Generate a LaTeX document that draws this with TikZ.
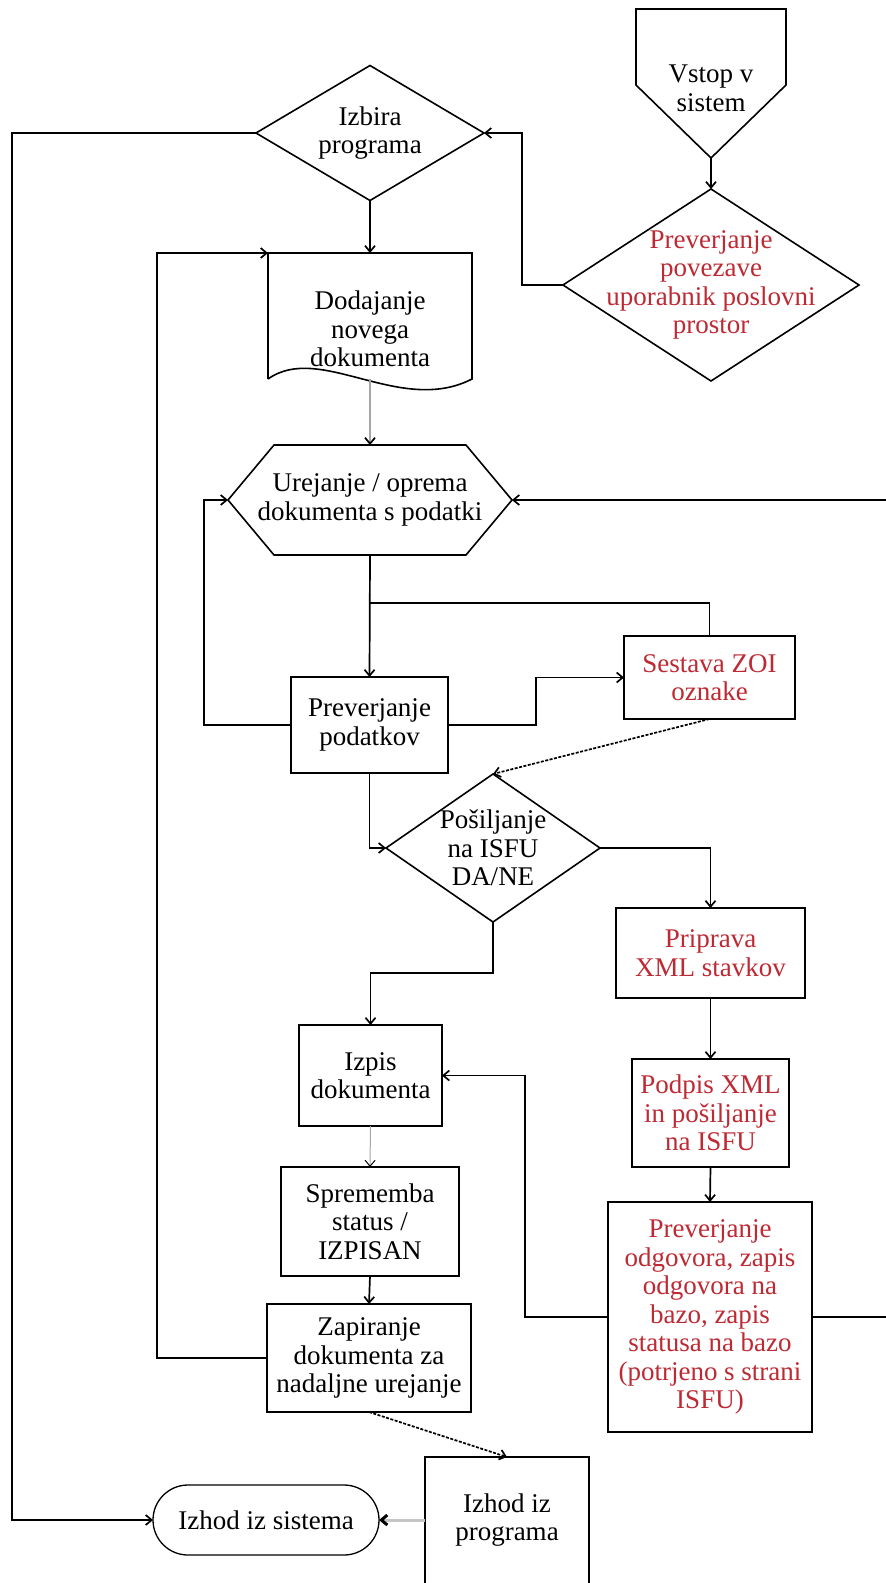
\documentclass[tikz,border=0pt]{standalone}
\usepackage{fontspec}
\setmainfont{Liberation Serif}
\usetikzlibrary{arrows.meta,calc}
\definecolor{txtred}{RGB}{190,42,52}
\begin{document}
\begin{tikzpicture}[x=1pt,y=-1pt,
  every node/.style={inner sep=0pt,outer sep=0pt,align=center,font=\fontsize{27}{28.5}\selectfont},
  box/.style={draw,line width=1.7pt},
  redtext/.style={text=txtred},
  outline/.style={line width=1.6pt,line join=miter},
  conn/.style={line width=1.7pt,-{Straight Barb[length=6pt,width=10pt,color=black]}},
  dashconn/.style={conn,dash pattern=on 3pt off 1.5pt},
  grayconn/.style={conn,draw=gray!70},
]
\useasboundingbox (0,0) rectangle (886,1583);
\fill[white] (0,0) rectangle (886,1583);
\clip (0,0) rectangle (886,1583);

% ---------- nodes ----------
\node[minimum width=150pt,minimum height=149pt] (vstop) at (711,88.5) {Vstop v\\sistem};
\draw[outline] ($(vstop.north west)+(0,-5)$) -- ($(vstop.north east)+(0,-5)$) -- ($(vstop.north east)+(0,71)$) -- ($(vstop.south)+(0,-5)$) -- ($(vstop.north west)+(0,71)$) -- cycle;
\coordinate (vstopout) at ($(vstop.south)+(0,-5)$);

\node[minimum width=228pt,minimum height=135pt] (izbira) at (370,133) {Izbira\\programa};
\draw[outline] (izbira.north) -- (izbira.east) -- (izbira.south) -- (izbira.west) -- cycle;

\node[redtext,minimum width=296pt,minimum height=192pt] (prevpov) at (711,285) {Preverjanje\\povezave\\uporabnik poslovni\\prostor};
\draw[outline] (prevpov.north) -- (prevpov.east) -- (prevpov.south) -- (prevpov.west) -- cycle;

\node[minimum width=204pt,minimum height=134pt] (dodaj) at (370,329) {Dodajanje\\novega\\dokumenta};
\coordinate (dodajtop) at ($(dodaj.north)+(0,-9)$);
\coordinate (dodajtl) at ($(dodaj.north west)+(0,-9)$);
\coordinate (dodajout) at ($(dodaj.south)+(0,-17)$);
\draw[outline] ($(dodaj.south west)+(0,-17)$) -- (dodajtl) -- ($(dodaj.north east)+(0,-9)$) -- ($(dodaj.south east)+(0,-17)$)
  .. controls ($(dodaj.south east)+(-72,20)$) and ($(dodaj.south west)+(52,-54)$) .. ($(dodaj.south west)+(0,-17)$);

\node[minimum width=284pt,minimum height=110pt] (ureja) at (370,500) {Urejanje / oprema\\dokumenta s podatki};
\draw[outline] ($(ureja.north west)+(46,0)$) -- ($(ureja.north east)+(-46,0)$) -- (ureja.east) -- ($(ureja.south east)+(-46,0)$) -- ($(ureja.south west)+(46,0)$) -- (ureja.west) -- cycle;

\node[box,minimum width=157pt,minimum height=96pt] (prevpod) at (369.5,725) {Preverjanje\\podatkov};
\node[box,redtext,minimum width=171pt,minimum height=83pt] (sestava) at (709.5,677.5) {Sestava ZOI\\oznake};

\node[minimum width=214pt,minimum height=148pt] (posilj) at (493,848) {Pošiljanje\\na ISFU\\DA/NE};
\draw[outline] (posilj.north) -- (posilj.east) -- (posilj.south) -- (posilj.west) -- cycle;

\node[box,redtext,minimum width=189pt,minimum height=90pt] (priprava) at (710.5,953) {Priprava\\XML stavkov};
\node[box,redtext,minimum width=157pt,minimum height=108pt] (podpis) at (710.5,1113) {Podpis XML\\in pošiljanje\\na ISFU};
\node[box,minimum width=143pt,minimum height=101pt] (izpis) at (370.5,1075.5) {Izpis\\dokumenta};
\node[box,minimum width=178pt,minimum height=109pt] (spremem) at (370,1221.5) {Sprememba\\status /\\IZPISAN};
\node[box,minimum width=204pt,minimum height=108pt] (zapir) at (369,1358) {Zapiranje\\dokumenta za\\nadaljne urejanje};
\node[box,redtext,minimum width=204pt,minimum height=230pt] (odgov) at (710,1317) {Preverjanje\\odgovora, zapis\\odgovora na\\bazo, zapis\\statusa na bazo\\(potrjeno s strani\\ISFU)};

\node[minimum width=164pt,minimum height=126pt] (izhodprog) at (507,1520) {Izhod iz\\programa};
\draw[outline] ($(izhodprog.south west)+(0,20)$) -- (izhodprog.north west) -- (izhodprog.north east) -- ($(izhodprog.south east)+(0,20)$);

\node[draw,line width=1.3pt,rounded corners=35pt,minimum width=226pt,minimum height=70pt] (izhodsis) at (266,1520) {Izhod iz sistema};

% ---------- connectors ----------
\coordinate (leftrail) at (12,0);
\coordinate (junc) at ($(ureja.south)+(0,48)$);

\draw[conn] (vstopout) -- (prevpov.north);
\draw[conn] (prevpov.west) -- ++(-41,0) |- (izbira.east);
\draw[conn] (izbira.west) -- (izbira.west -| leftrail) |- (izhodsis.west);
\draw[conn] (izbira.south) -- (dodajtop);
\draw[grayconn] (dodajout) -- (ureja.north);
\draw[conn] (ureja.south) -- (prevpod.north);
\draw[line width=1.7pt] (sestava.north) |- (junc);
\draw[conn] (prevpod.west) -- ++(-87,0) |- (ureja.west);
\draw[conn] (prevpod.east) -- ++(88,0) |- (sestava.west);
\draw[dashconn] (sestava.south) -- (posilj.north);
\draw[conn] (prevpod.south) |- (posilj.west);
\draw[conn] (posilj.east) -| (priprava.north);
\draw[conn] (priprava.south) -- (podpis.north);
\draw[conn] (posilj.south) -- ++(0,51) -| (izpis.north);
\draw[conn] (podpis.south) -- (odgov.north);
\draw[conn] (odgov.west) -- ++(-83,0) |- (izpis.east);
\draw[conn] (odgov.east) -- ++(80,0) |- (ureja.east);
\draw[grayconn,line width=1pt] (izpis.south) -- (spremem.north);
\draw[conn] (spremem.south) -- (zapir.north);
\draw[conn] (zapir.west) -- ++(-110,0) |- (dodajtl);
\draw[dashconn] (zapir.south) -- (izhodprog.north);
\draw[conn,draw=gray!45,line width=3pt] (izhodprog.west) -- (izhodsis.east);
\end{tikzpicture}
\end{document}
